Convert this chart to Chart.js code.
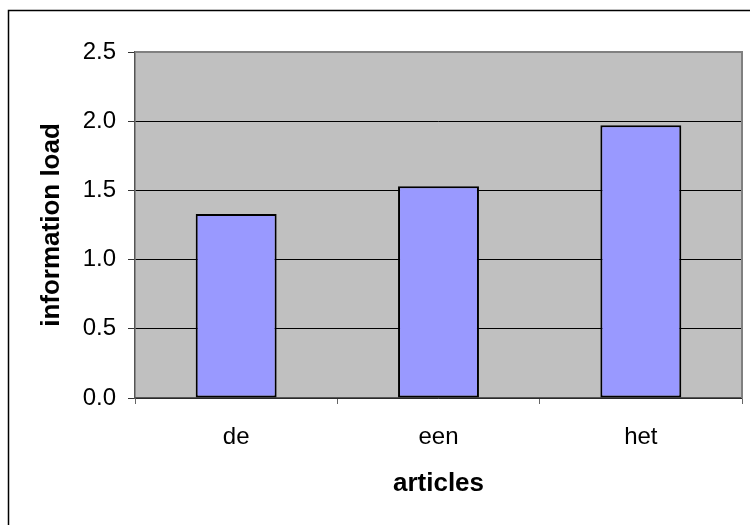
<!DOCTYPE html>
<html lang="en">
<head>
  <meta charset="UTF-8">
  <title>Information load per article</title>
  <script src="https://cdn.jsdelivr.net/npm/chart.js"></script>
  <style>
    body {
      margin: 0;
      background: #fff;
    }
    canvas {
      display: block;
    }
  </style>
</head>
<body>
  <canvas id="loadChart" width="750" height="525"></canvas>

  <script>
    const categories = ['de', 'een', 'het'];
    const loadValues = [1.33, 1.53, 1.97];
    const yMin = 0;
    const yMax = 2.5;
    const yStep = 0.5;

    const fontFamily = 'Arial, "Liberation Sans", sans-serif';

    // gray plot background, gray top/right frame and the outer box
    const framePlugin = {
      id: 'frame',
      beforeDraw(chart) {
        const { ctx, chartArea: a } = chart;
        ctx.save();
        ctx.fillStyle = '#c0c0c0';
        ctx.fillRect(a.left, a.top, a.right - a.left, a.bottom - a.top);
        ctx.strokeStyle = '#000';
        ctx.lineWidth = 1.5;
        ctx.strokeRect(8.5, 10.5, 900, 700);
        ctx.restore();
      },
      beforeDatasetsDraw(chart) {
        const { ctx, chartArea: a } = chart;
        ctx.save();
        ctx.strokeStyle = '#808080';
        ctx.lineWidth = 2;
        ctx.beginPath();
        ctx.moveTo(a.left, a.top);
        ctx.lineTo(a.right, a.top);
        ctx.lineTo(a.right, a.bottom);
        ctx.stroke();
        ctx.restore();
      }
    };

    const ctx = document.getElementById('loadChart').getContext('2d');
    new Chart(ctx, {
      type: 'bar',
      data: {
        labels: categories,
        datasets: [{
          label: 'information load',
          data: loadValues,
          backgroundColor: '#9999ff',
          borderColor: '#000',
          borderWidth: 2,
          borderSkipped: false,
          barPercentage: 0.4,
          categoryPercentage: 1.0
        }]
      },
      options: {
        responsive: false,
        animation: false,
        devicePixelRatio: 1,
        layout: {
          padding: { top: 52, right: 8, left: 0, bottom: 0 }
        },
        plugins: {
          legend: { display: false },
          tooltip: { enabled: false }
        },
        scales: {
          x: {
            offset: true,
            afterFit(scale) { scale.height = 127; },
            grid: {
              offset: true,
              drawOnChartArea: false,
              drawTicks: true,
              tickLength: 6,
              tickColor: '#666'
            },
            border: { color: '#555', width: 1.5 },
            ticks: {
              color: '#000',
              padding: 19,
              font: { family: fontFamily, size: 24 }
            },
            title: {
              display: true,
              text: 'articles',
              color: '#000',
              padding: { top: 0, bottom: 26 },
              font: { family: fontFamily, size: 26, weight: 'bold' }
            }
          },
          y: {
            min: yMin,
            max: yMax,
            afterFit(scale) { scale.width = 135; },
            grid: {
              color: (c) => c.tick && c.tick.value === yMax ? 'rgba(0,0,0,0)' : '#000',
              lineWidth: 1,
              tickLength: 7,
              tickColor: '#333'
            },
            border: { color: '#555', width: 1.5 },
            ticks: {
              stepSize: yStep,
              color: '#000',
              padding: 12,
              font: { family: fontFamily, size: 24 },
              callback: (v) => Number(v).toFixed(1)
            },
            title: {
              display: true,
              text: 'information load',
              color: '#000',
              padding: { top: 36, bottom: 0 },
              font: { family: fontFamily, size: 26, weight: 'bold' }
            }
          }
        }
      },
      plugins: [framePlugin]
    });
  </script>
</body>
</html>
